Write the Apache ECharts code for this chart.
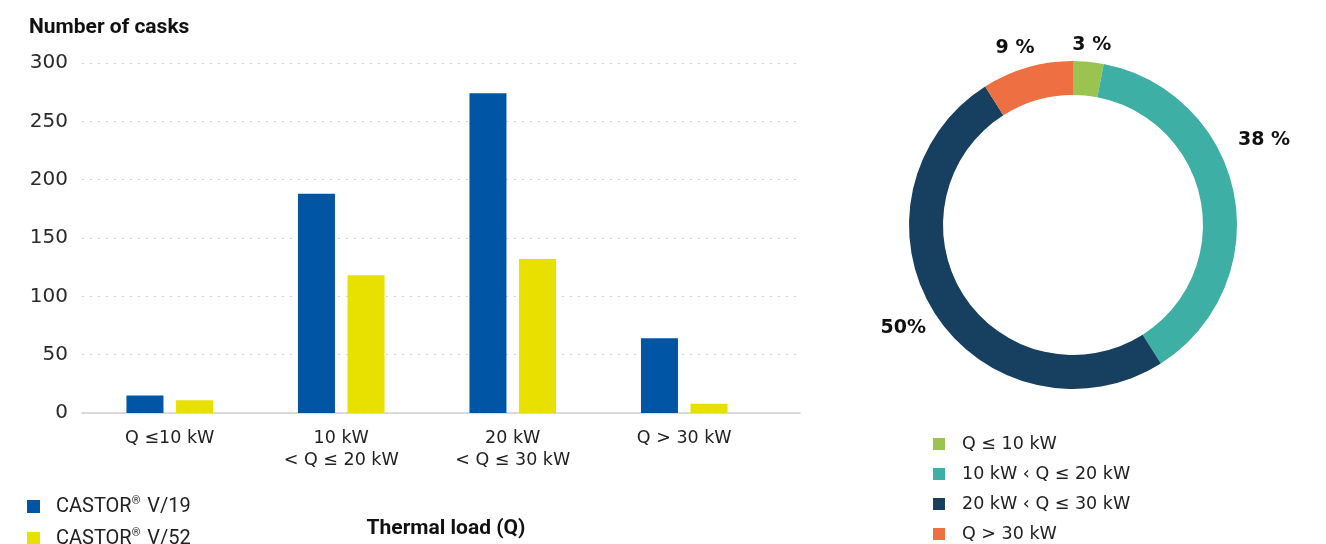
<!DOCTYPE html>
<html>
<head>
<meta charset="utf-8">
<script src="https://cdn.jsdelivr.net/npm/echarts@6/dist/echarts.min.js"></script>
<style>
  html, body { margin: 0; padding: 0; background: #fff; }
  #chart { width: 1326px; height: 544px; }
</style>
</head>
<body>
<div id="chart"></div>
<script>
// Thermal load categories and cask counts
const categories = ['Q \u226410 kW', '10 kW\n< Q \u2264 20 kW', '20 kW\n< Q \u2264 30 kW', 'Q > 30 kW'];
const castorV19 = [15, 188, 274, 64];
const castorV52 = [11, 118, 132, 8];
const seriesNames = ['CASTOR® V/19', 'CASTOR® V/52'];
const yTicks = [0, 50, 100, 150, 200, 250, 300];

// Share of all casks per thermal load class (percent)
const pieNames = ['Q \u2264 10 kW', '10 kW \u2039 Q \u2264 20 kW', '20 kW \u2039 Q \u2264 30 kW', 'Q > 30 kW'];
const pieShares = [3, 38, 50, 9];
const pieLabels = ['3 %', '38 %', '50%', '9 %'];

const barColors = ['#0055A5', '#E8E100'];
const pieColors = ['#9AC44F', '#3EAFA5', '#173F5F', '#EE7042'];
const SANS = '"DejaVu Sans", sans-serif';
const NARROW = 'Roboto, sans-serif';

// nudges for the ring's percentage labels, per slice
const pieLabelShift = [[-24, -7], [-13, -52], [7, 10], [17, -10]];

const chart = echarts.init(document.getElementById('chart'), null, { renderer: 'canvas' });

const supRich = { sup: { fontSize: 11, verticalAlign: 'top', padding: [0, 2, 10, 0], fontFamily: NARROW, color: '#222' } };

const barLegend = (name, top) => ({
  orient: 'vertical', left: 27, top: top, padding: 0,
  itemWidth: 13, itemHeight: 13, icon: 'rect',
  data: [name],
  formatter: n => n.replace('®', '{sup|®}'),
  textStyle: { fontSize: 20, color: '#222', fontFamily: NARROW, rich: supRich, padding: [0, 0, 0, 11] }
});

chart.setOption({
  animation: false,
  textStyle: { fontFamily: SANS },
  title: {
    text: 'Number of casks',
    left: 29, top: 17, padding: 0,
    textStyle: { fontSize: 21, fontWeight: 'bold', color: '#111', fontFamily: NARROW }
  },
  graphic: [{
    type: 'text', x: 446, y: 529,
    style: {
      text: 'Thermal load (Q)', fontSize: 21, fontWeight: 'bold', fill: '#111', fontFamily: NARROW,
      align: 'center', verticalAlign: 'middle'
    }
  }],
  legend: [
    barLegend(seriesNames[0], 496),
    barLegend(seriesNames[1], 528),
    {
      orient: 'vertical', left: 933, top: 434, padding: 0, itemGap: 10,
      itemWidth: 12, itemHeight: 12, icon: 'rect',
      data: pieNames,
      textStyle: { fontSize: 17.5, lineHeight: 20, color: '#222', fontFamily: SANS, padding: [0, 0, 0, 12] }
    }
  ],
  grid: [
    { left: 82, right: 526, top: 63, bottom: 131 },
    { left: 84, right: 556, top: 63, bottom: 131 }
  ],
  xAxis: [{
    gridIndex: 0, type: 'value', min: 0, max: 1,
    axisLine: { show: true, lineStyle: { color: '#cfcfcf', width: 1.5 } },
    axisTick: { show: false }, axisLabel: { show: false }, splitLine: { show: false }
  }, {
    gridIndex: 1, type: 'category', data: categories,
    axisLine: { show: false }, axisTick: { show: false },
    axisLabel: { fontSize: 17.5, color: '#222', lineHeight: 22, margin: 14, fontFamily: SANS }
  }],
  yAxis: [{
    gridIndex: 0, type: 'value', min: yTicks[0], max: yTicks[yTicks.length - 1], interval: 50,
    axisLine: { show: false }, axisTick: { show: false },
    axisLabel: { fontSize: 20, color: '#2a2a2a', margin: 14, fontFamily: SANS },
    splitLine: { show: true, lineStyle: { color: '#d4d4d4', type: [2, 6], width: 1 } }
  }, {
    gridIndex: 1, type: 'value', min: yTicks[0], max: yTicks[yTicks.length - 1], interval: 50,
    show: false
  }],
  series: [{
    name: seriesNames[0], type: 'bar', xAxisIndex: 1, yAxisIndex: 1,
    data: castorV19, barWidth: 37, barGap: '34%',
    itemStyle: { color: barColors[0] }
  }, {
    name: seriesNames[1], type: 'bar', xAxisIndex: 1, yAxisIndex: 1,
    data: castorV52, barWidth: 37, barGap: '34%',
    itemStyle: { color: barColors[1] }
  }, {
    type: 'pie',
    center: [1073, 225], radius: [130, 164],
    startAngle: 90, clockwise: true,
    avoidLabelOverlap: false,
    data: pieNames.map((n, i) => ({ name: n, value: pieShares[i], itemStyle: { color: pieColors[i] } })),
    label: {
      show: true, position: 'outside',
      formatter: p => pieLabels[p.dataIndex],
      fontSize: 19, fontWeight: 'bold', color: '#111', fontFamily: SANS
    },
    labelLine: { show: false, length: 10, length2: 2 },
    labelLayout: p => ({ dx: pieLabelShift[p.dataIndex][0], dy: pieLabelShift[p.dataIndex][1] }),
    emphasis: { disabled: true }
  }]
});
</script>
</body>
</html>
